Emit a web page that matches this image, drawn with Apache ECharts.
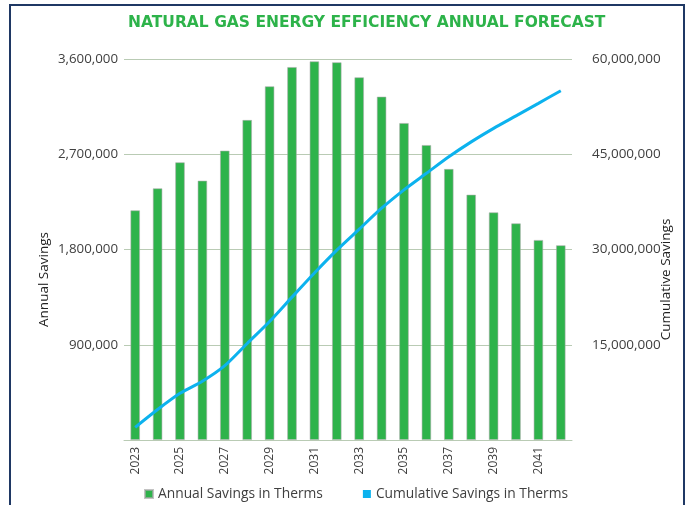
<!DOCTYPE html>
<html>
<head>
<meta charset="utf-8">
<script src="https://cdn.jsdelivr.net/npm/echarts@6/dist/echarts.min.js"></script>
<style>
  html, body { margin: 0; padding: 0; background: #fff; }
  #chart { width: 689px; height: 505px; }
</style>
</head>
<body>
<div id="chart"></div>
<script>
  // values
  const years = ['2023', '2024', '2025', '2026', '2027', '2028', '2029', '2030', '2031', '2032',
                 '2033', '2034', '2035', '2036', '2037', '2038', '2039', '2040', '2041', '2042'];
  const annualSavings = [2170000, 2378000, 2624000, 2450000, 2734000, 3024000, 3342000, 3524000, 3578000, 3569000,
                         3427000, 3244000, 2995000, 2787000, 2561000, 2318000, 2151000, 2047000, 1890000, 1840000];
  const cumulativeSavings = [2000000, 4800000, 7350000, 9250000, 11700000, 15200000, 18650000, 22500000, 26300000, 29900000,
                             33200000, 36500000, 39400000, 42000000, 44600000, 46950000, 49080000, 51050000, 53020000, 55000000];
  const leftTicks = [0, 3600000, 900000];   // min, max, interval
  const rightTicks = [0, 60000000, 15000000];

  const font = '"Open Sans", "Liberation Sans", sans-serif';
  const textColor = '#404040';
  const gridColor = '#b9cbb4';
  const fmt = v => v.toLocaleString('en-US');

  const chart = echarts.init(document.getElementById('chart'));
  chart.setOption({
    animation: false,
    textStyle: { fontFamily: font },
    title: {
      text: 'NATURAL GAS ENERGY EFFICIENCY ANNUAL FORECAST',
      left: 123,
      top: 10,
      textStyle: { color: '#2db34a', fontSize: 15.5, fontWeight: 'bold', fontFamily: '"DejaVu Sans", sans-serif' }
    },
    graphic: [{
      type: 'rect',
      shape: { x: 10, y: 5, width: 674, height: 600 },
      style: { fill: 'none', stroke: '#1f3864', lineWidth: 2 },
      silent: true
    }],
    grid: { left: 124, right: 117, top: 59, bottom: 65, outerBoundsMode: 'none' },
    legend: {
      left: 139,
      top: 482,
      itemWidth: 8,
      itemHeight: 8,
      itemGap: 40,
      icon: 'rect',
      textStyle: { color: textColor, fontSize: 13.8, fontFamily: font },
      data: ['Annual Savings in Therms', 'Cumulative Savings in Therms']
    },
    xAxis: {
      type: 'category',
      data: years,
      axisTick: { show: false },
      axisLine: { lineStyle: { color: gridColor } },
      axisLabel: { rotate: 90, interval: 1, margin: 7, color: textColor, fontSize: 12 }
    },
    yAxis: [{
      type: 'value',
      min: leftTicks[0], max: leftTicks[1], interval: leftTicks[2],
      name: 'Annual Savings',
      nameLocation: 'middle',
      nameRotate: 90,
      nameGap: 73,
      nameMoveOverlap: false,
      nameTextStyle: { color: '#222', fontSize: 13.5, padding: [0, 60, 0, 0] },
      axisLine: { show: false },
      axisTick: { show: false },
      splitLine: { lineStyle: { color: gridColor } },
      axisLabel: { showMinLabel: false, margin: 6, color: textColor, fontSize: 13.3, formatter: fmt }
    }, {
      type: 'value',
      min: rightTicks[0], max: rightTicks[1], interval: rightTicks[2],
      name: 'Cumulative Savings',
      nameLocation: 'middle',
      nameRotate: 90,
      nameGap: 87,
      nameMoveOverlap: false,
      nameTextStyle: { color: '#222', fontSize: 13.5, padding: [0, 60, 0, 0] },
      axisLine: { show: false },
      axisTick: { show: false },
      splitLine: { show: false },
      axisLabel: { showMinLabel: false, margin: 20, color: textColor, fontSize: 13.5, formatter: fmt }
    }],
    series: [{
      name: 'Annual Savings in Therms',
      type: 'bar',
      data: annualSavings,
      barWidth: 9.5,
      itemStyle: { color: '#2eb34b', borderColor: 'rgba(170,170,170,0.7)', borderWidth: 0.8 }
    }, {
      name: 'Cumulative Savings in Therms',
      type: 'line',
      yAxisIndex: 1,
      data: cumulativeSavings,
      smooth: 0.25,
      showSymbol: false,
      symbol: 'none',
      itemStyle: { color: '#0cb2ee' },
      lineStyle: { color: '#0cb2ee', width: 3 }
    }]
  });
</script>
</body>
</html>
